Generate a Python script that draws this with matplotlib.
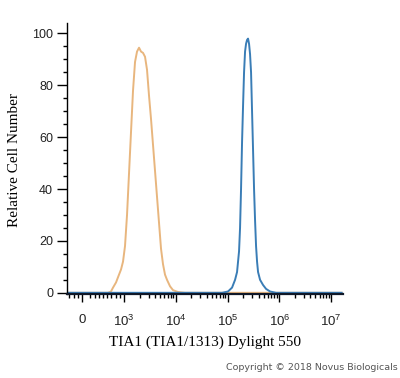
import matplotlib
matplotlib.use("Agg")
import matplotlib.pyplot as plt
from matplotlib.ticker import FixedLocator, NullFormatter, MultipleLocator

plt.rcParams['mathtext.fontset'] = 'custom'
plt.rcParams['mathtext.rm'] = 'Liberation Sans'
plt.rcParams['mathtext.it'] = 'Liberation Sans'
plt.rcParams['mathtext.default'] = 'rm'

# fluorescence intensity (Dylight 550) vs relative cell number
orange_x = [-350, 300, 619, 690, 738, 810, 857, 929, 976, 1045, 1143, 1249, 1365, 1493,
            1632, 1783, 1950, 2131, 2329, 2546, 2782, 3041, 3324, 3633, 3971,
            4340, 4744, 5185, 5667, 6194, 6770, 7745, 8860, 11050, 15100, 1.6e7]
orange_y = [0, 0, 0, 0.5, 2, 4, 6, 9, 12, 18, 30, 46, 62, 78,
            89, 93, 94.5, 93, 92.5, 91, 86, 76, 67, 57, 47,
            37, 27, 17, 11, 7, 5, 2.5, 1, 0.3, 0, 0]

blue_x = [-350, 50000, 78300, 102200, 122200, 139700, 152600, 166800, 174400, 182300,
          190600, 199300, 208400, 217900, 227800, 238200, 249000, 260300,
          272200, 284600, 297500, 311100, 325200, 340000, 355500, 371700,
          388600, 424800, 485600, 555100, 662400, 865300, 1.6e7]
blue_y = [0, 0, 0, 0.5, 2, 5, 8, 16, 25, 40,
          58, 72, 85, 93, 96, 97.5, 98, 96,
          92, 85, 70, 55, 40, 28, 18, 12,
          8, 5, 3, 1.5, 0.5, 0, 0]

x_ticks = [0, 1e3, 1e4, 1e5, 1e6, 1e7]
x_labels = ['0', '$10^3$', '$10^4$', '$10^5$', '$10^6$', '$10^7$']
x_minor = [-300, -200, -100] + [k * 100 for k in range(2, 10)] + \
          [k * 10 ** d for d in range(3, 7) for k in range(2, 10)]

fig = plt.figure(figsize=(4, 3.78), dpi=100)
ax = fig.add_axes([0.1675, 0.222, 0.69, 0.717])

ax.plot(orange_x, orange_y, color='#e8b67e', lw=1.4)
ax.plot(blue_x, blue_y, color='#3a7db6', lw=1.4)

ax.set_xscale('symlog', linthresh=1000, linscale=0.73)
ax.set_xlim(-358, 1.7e7)
ax.set_ylim(-0.5, 104)

ax.xaxis.set_major_locator(FixedLocator(x_ticks))
ax.set_xticklabels(x_labels)
ax.xaxis.set_minor_locator(FixedLocator(x_minor))
ax.xaxis.set_minor_formatter(NullFormatter())
ax.yaxis.set_major_locator(MultipleLocator(20))
ax.yaxis.set_minor_locator(MultipleLocator(5))

for s in ['top', 'right']:
    ax.spines[s].set_visible(False)
ax.spines['bottom'].set_linewidth(1.6)
ax.spines['bottom'].set_color('#101828')
ax.spines['left'].set_linewidth(1.0)

tick_font = 'Liberation Sans'
ax.tick_params(axis='y', which='major', length=7, width=1, pad=3, labelsize=9)
ax.tick_params(axis='y', which='minor', length=3, width=1)
ax.tick_params(axis='x', which='major', length=6, width=1, pad=8, labelsize=9.5)
ax.tick_params(axis='x', which='minor', length=3, width=1)
for lab in ax.get_xticklabels() + ax.get_yticklabels():
    lab.set_family(tick_font)
    lab.set_color('#222222')

ax.set_xlabel('TIA1 (TIA1/1313) Dylight 550', family='Liberation Serif',
              fontsize=11, labelpad=5)
ax.set_ylabel('Relative Cell Number', family='Liberation Serif', fontsize=11)
ax.yaxis.set_label_coords(-0.165, 0.494)

fig.text(0.995, 0.027, 'Copyright \u00a9 2018 Novus Biologicals', ha='right',
         va='center', fontsize=6.8, color='#555555', family='DejaVu Sans')

fig.savefig('out.png', dpi=100)
